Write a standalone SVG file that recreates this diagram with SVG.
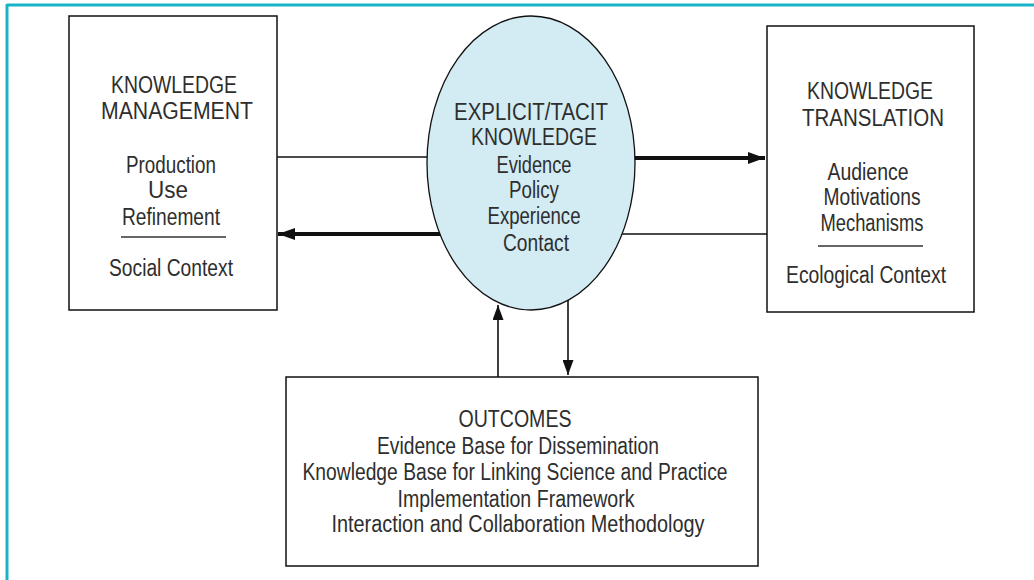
<svg xmlns="http://www.w3.org/2000/svg" width="1034" height="580" viewBox="0 0 1034 580">
<defs>
<style>
.frame{stroke:#17b4c8;stroke-width:3;fill:none}
.box{fill:#fff;stroke:#111;stroke-width:1.5}
.ell{fill:#d3ebf2;stroke:#111;stroke-width:1.3}
.t{font-family:"Liberation Sans",Arial,sans-serif;font-size:23px;fill:#2e2e2e;text-anchor:middle}
.sep{stroke:#333;stroke-width:1.5}
.thin{stroke:#111;stroke-width:1.6;fill:none}
.thick{stroke:#111;stroke-width:4;fill:none}
</style>
<marker id="ah" markerUnits="userSpaceOnUse" markerWidth="18" markerHeight="12" refX="17" refY="6" orient="auto">
<path d="M0,0 L17,6 L0,12 Z" fill="#111"/>
</marker>
<marker id="av" markerUnits="userSpaceOnUse" markerWidth="16" markerHeight="11" refX="15" refY="5.5" orient="auto">
<path d="M0,0 L15,5.5 L0,11 Z" fill="#111"/>
</marker>
</defs>
<rect width="1034" height="580" fill="#fff"/>
<g id="frame">
<line class="frame" x1="7" y1="5" x2="1034" y2="5"/>
<line class="frame" x1="7" y1="4" x2="7" y2="580"/>
</g>
<g id="connectors">
<line class="thin" x1="277" y1="157" x2="432" y2="157"/>
<line class="thick" x1="442" y1="234" x2="278" y2="234" marker-end="url(#ah)"/>
<line class="thick" x1="632" y1="158" x2="765" y2="158" marker-end="url(#ah)"/>
<line class="thin" x1="620" y1="234" x2="767" y2="234"/>
<line class="thin" x1="498" y1="377" x2="498" y2="305" marker-end="url(#av)"/>
<line class="thin" x1="568" y1="298" x2="568" y2="375" marker-end="url(#av)"/>
</g>
<g id="node-km">
<rect class="box" x="69" y="16" width="208" height="294"/>
<text class="t" x="174" y="93" textLength="126" lengthAdjust="spacingAndGlyphs">KNOWLEDGE</text>
<text class="t" x="177" y="119" textLength="152" lengthAdjust="spacingAndGlyphs">MANAGEMENT</text>
<text class="t" x="171" y="173" textLength="90" lengthAdjust="spacingAndGlyphs">Production</text>
<text class="t" x="168" y="198" textLength="40" lengthAdjust="spacingAndGlyphs">Use</text>
<text class="t" x="171" y="225" textLength="98" lengthAdjust="spacingAndGlyphs">Refinement</text>
<line class="sep" x1="121" y1="237" x2="226" y2="237"/>
<text class="t" x="171" y="276" textLength="124" lengthAdjust="spacingAndGlyphs">Social Context</text>
</g>
<g id="node-knowledge">
<ellipse class="ell" cx="531" cy="163" rx="104" ry="147"/>
<text class="t" x="531" y="120" textLength="154" lengthAdjust="spacingAndGlyphs">EXPLICIT/TACIT</text>
<text class="t" x="534" y="145" textLength="126" lengthAdjust="spacingAndGlyphs">KNOWLEDGE</text>
<text class="t" x="534" y="173" textLength="75" lengthAdjust="spacingAndGlyphs">Evidence</text>
<text class="t" x="534" y="198" textLength="50" lengthAdjust="spacingAndGlyphs">Policy</text>
<text class="t" x="534" y="224" textLength="93" lengthAdjust="spacingAndGlyphs">Experience</text>
<text class="t" x="536" y="251" textLength="66" lengthAdjust="spacingAndGlyphs">Contact</text>
</g>
<g id="node-kt">
<rect class="box" x="767" y="26" width="207" height="286"/>
<text class="t" x="870" y="99" textLength="126" lengthAdjust="spacingAndGlyphs">KNOWLEDGE</text>
<text class="t" x="873" y="126" textLength="142" lengthAdjust="spacingAndGlyphs">TRANSLATION</text>
<text class="t" x="868" y="180" textLength="81" lengthAdjust="spacingAndGlyphs">Audience</text>
<text class="t" x="872" y="205" textLength="97" lengthAdjust="spacingAndGlyphs">Motivations</text>
<text class="t" x="872" y="231" textLength="103" lengthAdjust="spacingAndGlyphs">Mechanisms</text>
<line class="sep" x1="818" y1="246" x2="923" y2="246"/>
<text class="t" x="866" y="283" textLength="160" lengthAdjust="spacingAndGlyphs">Ecological Context</text>
</g>
<g id="node-outcomes">
<rect class="box" x="286" y="377" width="472" height="189"/>
<text class="t" x="515" y="427" textLength="113" lengthAdjust="spacingAndGlyphs">OUTCOMES</text>
<text class="t" x="518" y="454" textLength="282" lengthAdjust="spacingAndGlyphs">Evidence Base for Dissemination</text>
<text class="t" x="515" y="480" textLength="425" lengthAdjust="spacingAndGlyphs">Knowledge Base for Linking Science and Practice</text>
<text class="t" x="516" y="507" textLength="237" lengthAdjust="spacingAndGlyphs">Implementation Framework</text>
<text class="t" x="518" y="532" textLength="373" lengthAdjust="spacingAndGlyphs">Interaction and Collaboration Methodology</text>
</g>
</svg>
